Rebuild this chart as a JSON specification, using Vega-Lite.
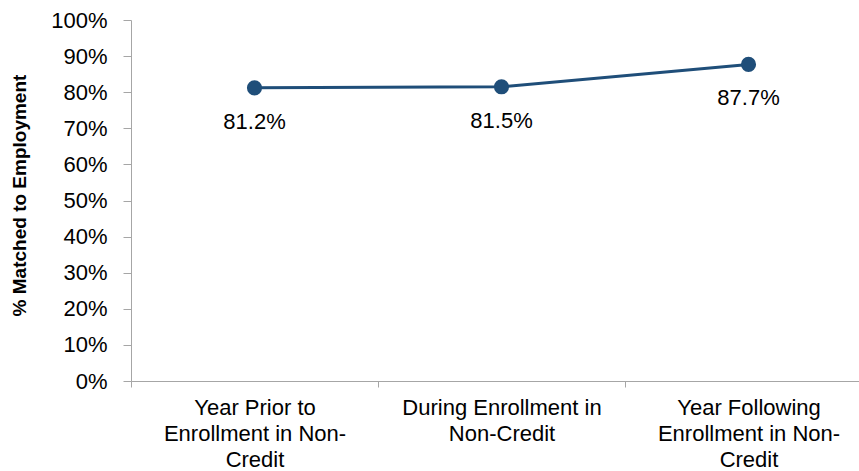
{
  "$schema": "https://vega.github.io/schema/vega-lite/v6.json",
  "autosize": "none",
  "width": 741,
  "height": 361,
  "padding": {"left": 131, "top": 20, "right": 0, "bottom": 90},
  "background": "white",
  "config": {
    "view": {"stroke": null},
    "font": "Liberation Sans",
    "axis": {"grid": false, "domainColor": "#a6a6a6", "tickColor": "#a6a6a6", "labelColor": "#000000", "labelFont": "Liberation Sans"}
  },
  "data": {
    "values": [
      {"period": "Year Prior to|Enrollment in Non-|Credit", "pct": 0.812, "order": 1},
      {"period": "During Enrollment in|Non-Credit", "pct": 0.815, "order": 2},
      {"period": "Year Following|Enrollment in Non-|Credit", "pct": 0.877, "order": 3}
    ]
  },
  "encoding": {
    "x": {
      "field": "period", "type": "nominal", "sort": {"field": "order"},
      "scale": {"paddingInner": 0, "paddingOuter": 0},
      "axis": {
        "title": null, "labelAngle": 0, "labelFontSize": 22, "labelPadding": 10, "labelLimit": 0,
        "labelExpr": "split(datum.label, '|')", "labelLineHeight": 26,
        "tickBand": "extent", "tickSize": 6, "labelBaseline": "top"
      }
    },
    "y": {
      "field": "pct", "type": "quantitative",
      "scale": {"domain": [0, 1], "nice": false},
      "axis": {
        "format": ".0%", "values": [0, 0.1, 0.2, 0.3, 0.4, 0.5, 0.6, 0.7, 0.8, 0.9, 1.0],
        "labelFontSize": 22, "tickSize": 8, "labelPadding": 16,
        "title": "% Matched to Employment", "titleFontSize": 19, "titleFontWeight": "bold",
        "titleFont": "Liberation Sans", "titleColor": "#000000",
        "titleX": -112, "titleY": 175, "titleAngle": -90, "titleBaseline": "middle", "titleAlign": "center"
      }
    }
  },
  "layer": [
    {"mark": {"type": "line", "color": "#1f4e79", "strokeWidth": 3}},
    {"mark": {"type": "point", "shape": "circle", "filled": true, "opacity": 1, "color": "#1f4e79", "size": 230}},
    {
      "mark": {"type": "text", "fontSize": 22, "dy": 34, "baseline": "middle", "color": "#000000", "font": "Liberation Sans"},
      "encoding": {"text": {"field": "pct", "type": "quantitative", "format": ".1%"}}
    }
  ]
}
